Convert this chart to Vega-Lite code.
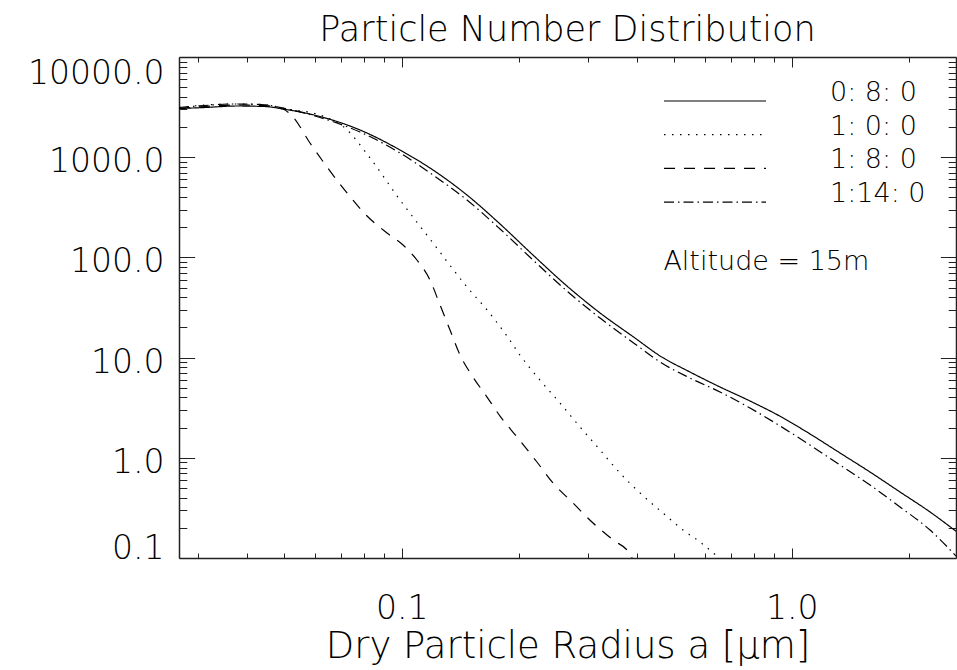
{
  "$schema": "https://vega.github.io/schema/vega-lite/v6.json",
  "width": 777,
  "height": 501,
  "autosize": {"type": "none"},
  "padding": {"left": 179, "top": 57, "right": 1, "bottom": 112},
  "background": "white",
  "config": {
    "view": {"stroke": null},
    "font": "DejaVu Sans",
    "axis": {"grid": false, "domainColor": "#222222", "domainWidth": 1.5, "tickColor": "#222222", "tickWidth": 1, "labelColor": "black", "titleColor": "black", "labelOverlap": false, "labelFlush": false}
  },
  "title": {
    "text": "Particle Number Distribution",
    "fontSize": 35,
    "fontWeight": 200,
    "color": "black",
    "anchor": "middle",
    "frame": "group",
    "baseline": "alphabetic",
    "offset": 15,
    "dy": 34
  },
  "datasets": {
    "curves": [
      {"series": "0: 8: 0", "r": 0.02685, "n": 3062},
      {"series": "0: 8: 0", "r": 0.0313, "n": 3133},
      {"series": "0: 8: 0", "r": 0.03781, "n": 3243},
      {"series": "0: 8: 0", "r": 0.04461, "n": 3206},
      {"series": "0: 8: 0", "r": 0.04961, "n": 3027},
      {"series": "0: 8: 0", "r": 0.06173, "n": 2548},
      {"series": "0: 8: 0", "r": 0.07817, "n": 1869},
      {"series": "0: 8: 0", "r": 0.099, "n": 1180},
      {"series": "0: 8: 0", "r": 0.1203, "n": 745},
      {"series": "0: 8: 0", "r": 0.147, "n": 419.6},
      {"series": "0: 8: 0", "r": 0.1787, "n": 215.5},
      {"series": "0: 8: 0", "r": 0.2171, "n": 105.6},
      {"series": "0: 8: 0", "r": 0.2653, "n": 51.8},
      {"series": "0: 8: 0", "r": 0.3225, "n": 27.9},
      {"series": "0: 8: 0", "r": 0.3963, "n": 15.7},
      {"series": "0: 8: 0", "r": 0.4595, "n": 10.4},
      {"series": "0: 8: 0", "r": 0.5484, "n": 7.18},
      {"series": "0: 8: 0", "r": 0.6549, "n": 5.09},
      {"series": "0: 8: 0", "r": 0.7817, "n": 3.69},
      {"series": "0: 8: 0", "r": 0.9333, "n": 2.6},
      {"series": "0: 8: 0", "r": 1.114, "n": 1.73},
      {"series": "0: 8: 0", "r": 1.33, "n": 1.117},
      {"series": "0: 8: 0", "r": 1.588, "n": 0.721},
      {"series": "0: 8: 0", "r": 1.895, "n": 0.456},
      {"series": "0: 8: 0", "r": 2.263, "n": 0.288},
      {"series": "0: 8: 0", "r": 2.638, "n": 0.185},

      {"series": "1: 0: 0", "r": 0.02685, "n": 3133},
      {"series": "1: 0: 0", "r": 0.03627, "n": 3396},
      {"series": "1: 0: 0", "r": 0.04383, "n": 3357},
      {"series": "1: 0: 0", "r": 0.0508, "n": 3027},
      {"series": "1: 0: 0", "r": 0.06173, "n": 2636},
      {"series": "1: 0: 0", "r": 0.07155, "n": 1956},
      {"series": "1: 0: 0", "r": 0.08295, "n": 981},
      {"series": "1: 0: 0", "r": 0.099, "n": 374},
      {"series": "1: 0: 0", "r": 0.1203, "n": 139.3},
      {"series": "1: 0: 0", "r": 0.147, "n": 50.7},
      {"series": "1: 0: 0", "r": 0.1655, "n": 29.9},
      {"series": "1: 0: 0", "r": 0.1862, "n": 16.4},
      {"series": "1: 0: 0", "r": 0.201, "n": 10.6},
      {"series": "1: 0: 0", "r": 0.2262, "n": 5.97},
      {"series": "1: 0: 0", "r": 0.2546, "n": 3.52},
      {"series": "1: 0: 0", "r": 0.2866, "n": 2.03},
      {"series": "1: 0: 0", "r": 0.3225, "n": 1.197},
      {"series": "1: 0: 0", "r": 0.3627, "n": 0.705},
      {"series": "1: 0: 0", "r": 0.4083, "n": 0.446},
      {"series": "1: 0: 0", "r": 0.4677, "n": 0.281},
      {"series": "1: 0: 0", "r": 0.5265, "n": 0.19},
      {"series": "1: 0: 0", "r": 0.5819, "n": 0.1445},
      {"series": "1: 0: 0", "r": 0.6471, "n": 0.1023},

      {"series": "1: 8: 0", "r": 0.02685, "n": 3076},
      {"series": "1: 8: 0", "r": 0.0313, "n": 3206},
      {"series": "1: 8: 0", "r": 0.03781, "n": 3319},
      {"series": "1: 8: 0", "r": 0.04461, "n": 3281},
      {"series": "1: 8: 0", "r": 0.04961, "n": 3027},
      {"series": "1: 8: 0", "r": 0.05265, "n": 2518},
      {"series": "1: 8: 0", "r": 0.05819, "n": 1386},
      {"series": "1: 8: 0", "r": 0.06435, "n": 798},
      {"series": "1: 8: 0", "r": 0.0724, "n": 439.5},
      {"series": "1: 8: 0", "r": 0.08149, "n": 259},
      {"series": "1: 8: 0", "r": 0.0917, "n": 175.2},
      {"series": "1: 8: 0", "r": 0.1008, "n": 133},
      {"series": "1: 8: 0", "r": 0.1094, "n": 94.2},
      {"series": "1: 8: 0", "r": 0.1182, "n": 59.4},
      {"series": "1: 8: 0", "r": 0.1254, "n": 33.5},
      {"series": "1: 8: 0", "r": 0.133, "n": 18.85},
      {"series": "1: 8: 0", "r": 0.1411, "n": 10.6},
      {"series": "1: 8: 0", "r": 0.1523, "n": 6.4},
      {"series": "1: 8: 0", "r": 0.1655, "n": 4.04},
      {"series": "1: 8: 0", "r": 0.1787, "n": 2.61},
      {"series": "1: 8: 0", "r": 0.1975, "n": 1.613},
      {"series": "1: 8: 0", "r": 0.2222, "n": 0.908},
      {"series": "1: 8: 0", "r": 0.2443, "n": 0.561},
      {"series": "1: 8: 0", "r": 0.2749, "n": 0.354},
      {"series": "1: 8: 0", "r": 0.3094, "n": 0.2236},
      {"series": "1: 8: 0", "r": 0.3482, "n": 0.1514},
      {"series": "1: 8: 0", "r": 0.3848, "n": 0.1096},
      {"series": "1: 8: 0", "r": 0.3896, "n": 0.1},

      {"series": "1:14: 0", "r": 0.02685, "n": 3133},
      {"series": "1:14: 0", "r": 0.0313, "n": 3281},
      {"series": "1:14: 0", "r": 0.03627, "n": 3396},
      {"series": "1:14: 0", "r": 0.04383, "n": 3357},
      {"series": "1:14: 0", "r": 0.04961, "n": 3097},
      {"series": "1:14: 0", "r": 0.06173, "n": 2490},
      {"series": "1:14: 0", "r": 0.07817, "n": 1785},
      {"series": "1:14: 0", "r": 0.099, "n": 1102},
      {"series": "1:14: 0", "r": 0.1203, "n": 664},
      {"series": "1:14: 0", "r": 0.147, "n": 374},
      {"series": "1:14: 0", "r": 0.1787, "n": 192},
      {"series": "1:14: 0", "r": 0.2171, "n": 94.2},
      {"series": "1:14: 0", "r": 0.2653, "n": 46.2},
      {"series": "1:14: 0", "r": 0.3225, "n": 24.8},
      {"series": "1:14: 0", "r": 0.3963, "n": 13.7},
      {"series": "1:14: 0", "r": 0.4595, "n": 9.04},
      {"series": "1:14: 0", "r": 0.5484, "n": 6.25},
      {"series": "1:14: 0", "r": 0.6549, "n": 4.54},
      {"series": "1:14: 0", "r": 0.7817, "n": 3.14},
      {"series": "1:14: 0", "r": 0.9333, "n": 2.08},
      {"series": "1:14: 0", "r": 1.114, "n": 1.342},
      {"series": "1:14: 0", "r": 1.33, "n": 0.847},
      {"series": "1:14: 0", "r": 1.588, "n": 0.535},
      {"series": "1:14: 0", "r": 1.895, "n": 0.323},
      {"series": "1:14: 0", "r": 2.263, "n": 0.19},
      {"series": "1:14: 0", "r": 2.638, "n": 0.1047}
    ]
  },
  "data": {"name": "curves"},
  "layer": [
    {
      "mark": {"type": "line", "color": "black", "strokeWidth": 1.2, "clip": true, "interpolate": "monotone"},
      "encoding": {
        "x": {
          "field": "r", "type": "quantitative",
          "scale": {"type": "log", "domain": [0.02685, 2.638], "nice": false},
          "axis": {
            "orient": "bottom", "values": [0.1, 1], "format": ".1f",
            "ticks": false, "tickSize": 0, "domain": true,
            "labelFontSize": 33, "labelFontWeight": 200, "labelPadding": 60, "labelBaseline": "alphabetic",
            "title": "Dry Particle Radius a [μm]", "titleFontSize": 37, "titleFontWeight": 200, "titlePadding": 3
          }
        },
        "y": {
          "field": "n", "type": "quantitative",
          "scale": {"type": "log", "domain": [0.1, 10000], "nice": false},
          "axis": {
            "orient": "left", "values": [0.1, 1, 10, 100, 1000, 10000], "format": ".1f",
            "ticks": false, "tickSize": 0, "domain": true,
            "labelFontSize": 33, "labelFontWeight": 200, "labelPadding": 15, "labelBaseline": "alphabetic",
            "labelOffset": {"expr": "datum.value >= 9999 ? 26 : (datum.value <= 0.11 ? 0 : 14.5)"},
            "title": null
          }
        },
        "detail": {"field": "series"},
        "strokeDash": {
          "field": "series", "type": "nominal",
          "scale": {"domain": ["0: 8: 0", "1: 0: 0", "1: 8: 0", "1:14: 0"], "range": [[1, 0], [1.5, 6.5], [11, 9], [10, 4, 1.5, 4]]},
          "legend": {
            "orient": "none", "legendX": 484, "legendY": 30.5, "title": null,
            "symbolType": "stroke", "symbolSize": 10404, "symbolStrokeWidth": 1.2, "symbolStrokeColor": "black",
            "labelFontSize": 27, "labelFontWeight": 200, "labelColor": "black", "labelOffset": 63, "labelBaseline": "alphabetic",
            "clipHeight": 27, "rowPadding": -2.3
          }
        }
      }
    },
    {
      "mark": {"type": "line", "opacity": 0},
      "encoding": {
        "x": {"field": "r", "type": "quantitative", "scale": {"type": "log", "domain": [0.02685, 2.638], "nice": false},
          "axis": {"orient": "bottom", "values": [0.1, 1], "labels": false, "domain": false, "ticks": true, "tickSize": -10, "title": null}},
        "y": {"field": "n", "type": "quantitative", "scale": {"type": "log", "domain": [0.1, 10000], "nice": false},
          "axis": {"orient": "left", "values": [0.1, 1, 10, 100, 1000, 10000], "labels": false, "domain": false, "ticks": true, "tickSize": -15.6, "title": null}},
        "detail": {"field": "series"}
      }
    },
    {
      "mark": {"type": "line", "opacity": 0},
      "encoding": {
        "x": {"field": "r", "type": "quantitative", "scale": {"type": "log", "domain": [0.02685, 2.638], "nice": false},
          "axis": {"orient": "bottom", "values": [0.03, 0.04, 0.05, 0.06, 0.07, 0.08, 0.09, 0.2, 0.3, 0.4, 0.5, 0.6, 0.7, 0.8, 0.9, 2], "labels": false, "domain": false, "ticks": true, "tickSize": -5, "title": null}},
        "y": {"field": "n", "type": "quantitative", "scale": {"type": "log", "domain": [0.1, 10000], "nice": false},
          "axis": {"orient": "left", "values": [0.2, 0.3, 0.4, 0.5, 0.6, 0.7, 0.8, 0.9, 2, 3, 4, 5, 6, 7, 8, 9, 20, 30, 40, 50, 60, 70, 80, 90, 200, 300, 400, 500, 600, 700, 800, 900, 2000, 3000, 4000, 5000, 6000, 7000, 8000, 9000], "labels": false, "domain": false, "ticks": true, "tickSize": -7.8, "title": null}},
        "detail": {"field": "series"}
      }
    },
    {
      "mark": {"type": "line", "opacity": 0},
      "encoding": {
        "x": {"field": "r", "type": "quantitative", "scale": {"type": "log", "domain": [0.02685, 2.638], "nice": false},
          "axis": {"orient": "top", "values": [0.1, 1], "labels": false, "domain": true, "ticks": true, "tickSize": -10, "title": null}},
        "y": {"field": "n", "type": "quantitative", "scale": {"type": "log", "domain": [0.1, 10000], "nice": false},
          "axis": {"orient": "right", "values": [0.1, 1, 10, 100, 1000, 10000], "labels": false, "domain": true, "ticks": true, "tickSize": -15.6, "title": null}},
        "detail": {"field": "series"}
      }
    },
    {
      "mark": {"type": "line", "opacity": 0},
      "encoding": {
        "x": {"field": "r", "type": "quantitative", "scale": {"type": "log", "domain": [0.02685, 2.638], "nice": false},
          "axis": {"orient": "top", "values": [0.03, 0.04, 0.05, 0.06, 0.07, 0.08, 0.09, 0.2, 0.3, 0.4, 0.5, 0.6, 0.7, 0.8, 0.9, 2], "labels": false, "domain": false, "ticks": true, "tickSize": -5, "title": null}},
        "y": {"field": "n", "type": "quantitative", "scale": {"type": "log", "domain": [0.1, 10000], "nice": false},
          "axis": {"orient": "right", "values": [0.2, 0.3, 0.4, 0.5, 0.6, 0.7, 0.8, 0.9, 2, 3, 4, 5, 6, 7, 8, 9, 20, 30, 40, 50, 60, 70, 80, 90, 200, 300, 400, 500, 600, 700, 800, 900, 2000, 3000, 4000, 5000, 6000, 7000, 8000, 9000], "labels": false, "domain": false, "ticks": true, "tickSize": -7.8, "title": null}},
        "detail": {"field": "series"}
      }
    },
    {
      "data": {"values": [{"label": "Altitude = 15m"}]},
      "mark": {"type": "text", "align": "left", "baseline": "alphabetic", "fontSize": 27, "fontWeight": 200, "color": "black"},
      "encoding": {
        "text": {"field": "label"},
        "x": {"datum": 0.4688, "type": "quantitative", "scale": {"type": "log", "domain": [0.02685, 2.638], "nice": false}, "axis": null},
        "y": {"datum": 74.8, "type": "quantitative", "scale": {"type": "log", "domain": [0.1, 10000], "nice": false}, "axis": null}
      }
    }
  ],
  "resolve": {"axis": {"x": "independent", "y": "independent"}}
}
